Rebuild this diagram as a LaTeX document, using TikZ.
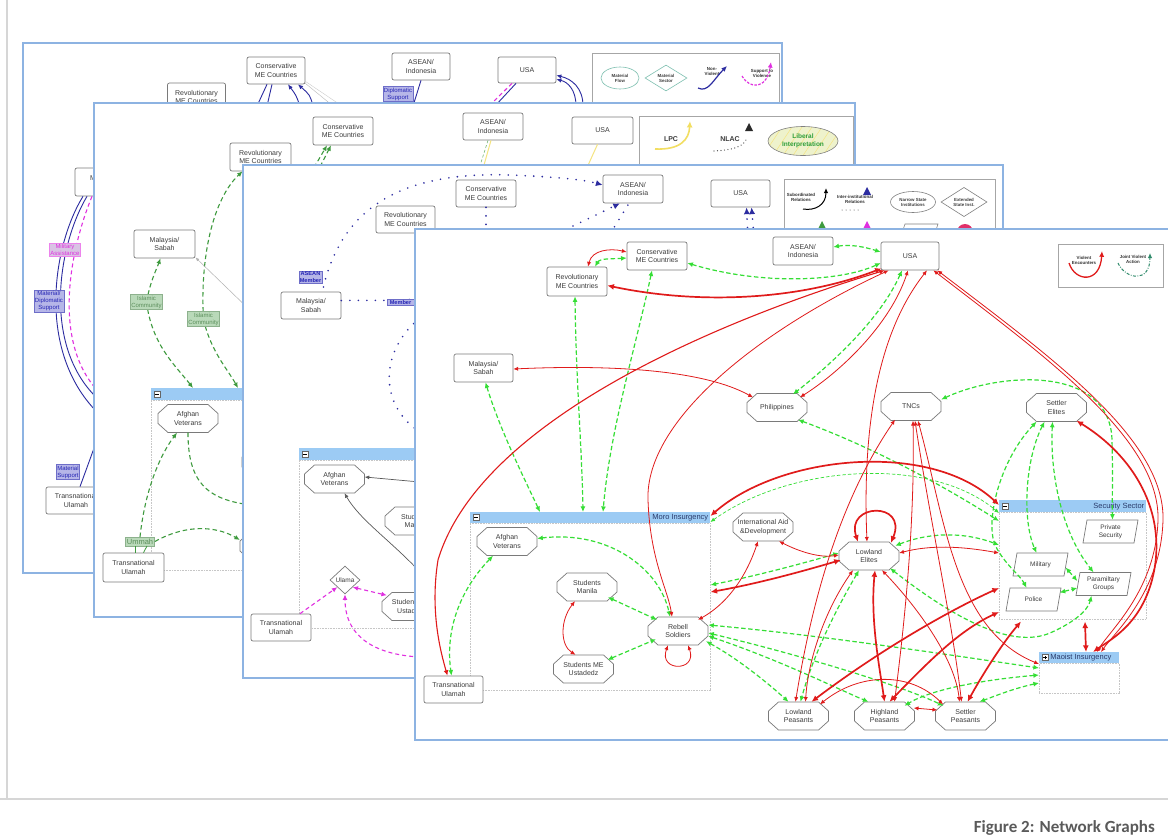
\documentclass[tikz,border=0pt]{standalone}
\usepackage{fontspec}
\setmainfont{Liberation Sans}
\newfontfamily\capfont{Carlito}
\usetikzlibrary{arrows.meta,shapes.geometric}

\definecolor{pageblue}{HTML}{8DB3E2}
\definecolor{boxgray}{HTML}{7A7A7A}
\definecolor{txtgray}{HTML}{3C3C3C}
\definecolor{vred}{HTML}{E01B1B}
\definecolor{vgrn}{HTML}{35DE35}
\definecolor{dgrn}{HTML}{3E9A3E}
\definecolor{navy}{HTML}{2C2CA0}
\definecolor{mag}{HTML}{E030E0}
\definecolor{hdrblue}{HTML}{9CCBF4}
\definecolor{lblfill}{HTML}{B6B6E8}
\definecolor{lbldraw}{HTML}{6E6EC8}
\definecolor{lbltext}{HTML}{2424B4}
\definecolor{islfill}{HTML}{B9D9B9}
\definecolor{isltext}{HTML}{5C8F5C}
\definecolor{pinkfill}{HTML}{D9C4E4}
\definecolor{tealline}{HTML}{7EC0B0}
\definecolor{lpcyel}{HTML}{F2DE62}
\definecolor{bordergray}{HTML}{D6D6D6}
\definecolor{capgray}{HTML}{5A5A5A}
\definecolor{hatchfill}{HTML}{EEF2CC}
\definecolor{libgreen}{HTML}{2E9E3A}
\definecolor{jvgreen}{HTML}{2E8A6A}
\definecolor{ttlblue}{HTML}{2A3A6A}
\definecolor{circred}{HTML}{E0306A}

\newcommand\nf{\fontsize{7}{8.6}\selectfont}
\newcommand\nfs{\fontsize{6.5}{8}\selectfont}
\newcommand\lf{\fontsize{4.4}{5}\selectfont\bfseries}
\newcommand\tf{\fontsize{6}{7}\selectfont}

% octagon outline centred on #2, with the named text node placed on top
\newcommand\octnode[3]{%
  \filldraw[octline] (#2) ++(-20pt,14pt) -- ++(40pt,0pt) -- ++(10pt,-9pt) -- ++(0pt,-10pt)
    -- ++(-10pt,-9pt) -- ++(-40pt,0pt) -- ++(-10pt,9pt) -- ++(0pt,10pt) -- cycle;
  \node[octbase] (#1) at (#2) {#3};}
% slanted box (parallelogram) centred on #2
\newcommand\paranode[3]{%
  \filldraw[octline] (#2) ++(-23.5pt,11.5pt) -- ++(51pt,0pt) -- ++(-4pt,-23pt) -- ++(-51pt,0pt) -- cycle;
  \node[parabase] (#1) at (#2) {#3};}

\tikzset{
  sheet/.style={draw=pageblue, line width=1.6pt, fill=white},
  rbox/.style={draw=boxgray, line width=0.7pt, fill=white, rounded corners=2pt, minimum width=60pt, minimum height=28pt, inner sep=0pt, align=center, font=\nf, text=txtgray},
  octline/.style={draw=boxgray, line width=0.7pt, fill=white},
  octbase/.style={minimum width=60pt, minimum height=28pt, inner sep=0pt, align=center, font=\nf, text=txtgray},
  parabase/.style={minimum width=52pt, minimum height=23pt, inner sep=0pt, align=center, font=\nfs, text=txtgray},
  lbl/.style={draw=lbldraw, fill=lblfill, text=lbltext, font=\tf, align=center, inner sep=1pt, line width=0.5pt},
  isl/.style={draw=isltext!70, fill=islfill, text=isltext, font=\tf, align=center, inner sep=1pt, line width=0.5pt},
  legbox/.style={draw=gray!70, line width=0.6pt, inner sep=0pt, anchor=north west, fill=white},
  legtxt/.style={font=\lf, align=center, text=txtgray!80!black, inner sep=0pt},
  grphdr/.style={fill=hdrblue, inner sep=0pt, anchor=north west, minimum height=11pt},
  grpbody/.style={draw=gray!45, dash pattern=on 0.8pt off 0.8pt, line width=0.5pt, inner sep=0pt, anchor=north west, fill=white},
  grpttl/.style={font=\fontsize{7.5}{8}\selectfont, text=ttlblue, inner sep=1pt},
  icon/.style={draw=gray!80!black, fill=white, minimum size=6pt, inner sep=0pt, line width=0.4pt},
  rt/.style={draw=vred, line width=0.8pt, <->},
  rm/.style={draw=vred, line width=1.1pt, <->},
  rk/.style={draw=vred, line width=1.7pt, <->},
  gd/.style={draw=vgrn, line width=1.2pt, dash pattern=on 4.5pt off 2.5pt, <->},
  gdt/.style={draw=vgrn, line width=0.7pt, dash pattern=on 3.5pt off 2pt, <->},
  dkgreen/.style={draw=dgrn, line width=1.1pt, dash pattern=on 4.5pt off 3pt},
  dotline/.style={draw=navy, line width=1.8pt, line cap=round, dash pattern=on 0pt off 8.5pt},
  navyline/.style={draw=navy, line width=0.9pt},
  magline/.style={draw=mag, line width=1.1pt, dash pattern=on 4pt off 3pt},
}

\begin{document}
\begin{tikzpicture}[x=1pt, y=-1pt, >={Latex[length=3.2pt 2,width=2.6pt 2]}]
\useasboundingbox (0,0) rectangle (1168,839);
\clip (0,0) rectangle (1168,839);
\fill[white] (0,0) rectangle (1168,839);

%% ---------------- sheet 1 (back) ----------------
\draw[sheet] (23,43) rectangle (782,573);
\node[rbox, minimum width=58pt, minimum height=27pt] (p1cons) at (276,70.5) {Conservative\\ME Countries};
\node[rbox, minimum width=58pt] (p1rev) at (196.5,97) {Revolutionary\\ME Countries};
\node[rbox, minimum width=58pt, minimum height=27pt] (p1asean) at (421,66.5) {ASEAN/\\Indonesia};
\node[rbox, minimum width=58pt, minimum height=26pt] (p1usa) at (527,70) {USA};
\node[rbox] (p1mal) at (105,182) {Malaysia/\\Sabah};
\node[rbox, minimum height=27pt] (p1tu) at (76,500.5) {Transnational\\Ulamah};

\coordinate (p1c1) at (97,398); \coordinate (p1c2) at (97,412); \coordinate (p1c3) at (97,390);
\coordinate (p1c4) at (97,440);
\draw[navyline] ([xshift=-18pt]p1mal.south) .. controls (58,245) and (42,345) .. (p1c1);
\draw[navyline] ([xshift=-22pt]p1mal.south) .. controls (53,245) and (36,350) .. (p1c2);
\draw[magline] ([xshift=-13pt]p1mal.south) .. controls (70,250) and (52,340) .. (p1c3);
\draw[navyline] ([xshift=4pt]p1tu.north) -- (p1c4);

\coordinate (p1k1) at (257,106); \coordinate (p1k2) at (267,106); \coordinate (p1k3) at (300,106);
\coordinate (p1k4) at (313,106); \coordinate (p1k5) at (333,106); \coordinate (p1k6) at (342,106);
\coordinate (p1k7) at (413,106); \coordinate (p1k8) at (489,106); \coordinate (p1k9) at (495,106);
\coordinate (p1k10) at (576,106); \coordinate (p1k11) at (583,106);
\draw[navyline] (p1k1) -- ([xshift=-9pt]p1cons.south);
\draw[navyline] (p1k2) -- ([xshift=-4pt]p1cons.south);
\draw[navyline,->] (p1k3) .. controls (296,95) .. ([xshift=12pt]p1cons.south);
\draw[navyline,->] (p1k4) .. controls (310,95) .. ([xshift=22pt]p1cons.south);
\draw[gray!55, line width=0.4pt] ([yshift=1pt]p1cons.south east) -- (p1k5);
\draw[gray!40, line width=0.4pt] ([yshift=3pt]p1cons.south east) -- (p1k6);
\draw[navyline] (p1asean.south) -- (p1k7);
\draw[magline] ([xshift=-15pt]p1usa.south) -- (p1k8);
\draw[navyline] ([xshift=-11pt]p1usa.south) -- (p1k9);
\draw[navyline,->] (p1k10) .. controls (576,90) and (568,82) .. ([yshift=4pt]p1usa.south east);
\draw[navyline,->] (p1k11) .. controls (583,88) and (572,79) .. ([yshift=8pt]p1usa.south east);

\node[lbl, fill=pinkfill, draw=mag!60, text=mag] (p1milit) at (65,250) {Military\\Assistance};
\node[lbl] (p1matdip) at (49,301) {Material/\\Diplomatic\\Support};
\node[lbl] (p1matsup) at (68,472) {Material\\Support};
\node[lbl] (p1dipl) at (398,94) {Diplomatic\\Support};

% legend of sheet 1
\node[legbox, minimum width=187pt, minimum height=49pt] (p1leg) at (592,53) {};
\node[ellipse, draw=tealline, line width=0.6pt, minimum width=38pt, minimum height=22pt, inner sep=0pt, font=\lf, text=txtgray, align=center] (p1legmf) at (620,78) {Material\\Flow};
\node[diamond, draw=tealline, line width=0.6pt, minimum width=42pt, minimum height=26pt, inner sep=0pt, font=\lf, text=txtgray, align=center] (p1legms) at (666,78) {Material\\Sector};
\node[legtxt] (p1legnv) at (712,72) {Non-\\Violent};
\coordinate (p1a1) at (698,88); \coordinate (p1a2) at (727,66);
\draw[navy, line width=1.2pt, ->] (p1a1) .. controls (708,93) and (713,80) .. (p1a2);
\node[legtxt] (p1legsv) at (762,73) {Support to\\Violence};
\coordinate (p1a3) at (742,76); \coordinate (p1a4) at (771,62);
\draw[mag, line width=1.2pt, dash pattern=on 2.5pt off 1.5pt, ->] (p1a3) .. controls (750,90) and (767,89) .. (p1a4);

%% ---------------- sheet 2 ----------------
\draw[sheet] (94,103) rectangle (855,617);
\node[grpbody, minimum width=349pt, minimum height=170pt] (p2moro) at (151,400) {};
\node[grphdr, minimum width=349pt, minimum height=12pt] (p2morohdr) at (151,388) {};
\node[icon] (p2moroicon) at (157,394) {};
\draw[line width=0.6pt] ([xshift=1.3pt]p2moroicon.west) -- ([xshift=-1.3pt]p2moroicon.east);

\node[rbox] (p2cons) at (343,131) {Conservative\\ME Countries};
\node[rbox, minimum width=61pt] (p2rev) at (260.5,157) {Revolutionary\\ME Countries};
\node[rbox, minimum height=27pt] (p2asean) at (493,126.5) {ASEAN/\\Indonesia};
\node[rbox, minimum width=61pt, minimum height=27pt] (p2usa) at (602.5,130.5) {USA};
\node[rbox, minimum width=61pt] (p2mal) at (164.5,244) {Malaysia/\\Sabah};
\octnode{p2afg}{188,418.5}{Afghan\\Veterans}
\octnode{p2stman}{272,462}{Students\\Manila}
\octnode{p2stme}{270,546}{Students ME\\Ustadedz}
\node[rbox, minimum width=61pt, minimum height=29pt] (p2tu) at (133.5,567.5) {Transnational\\Ulamah};

\coordinate (p2k1) at (295,200); \coordinate (p2k2) at (303,200);
\coordinate (p2k3) at (255,315); \coordinate (p2k4) at (252,505);
\coordinate (p2k5) at (478,172); \coordinate (p2k6) at (482,172); \coordinate (p2k7) at (585,172);
% label positions on the green paths
\coordinate (p2i1) at (146.5,302); \coordinate (p2i2) at (203.5,319);
\draw[dkgreen,->] (p2i1) .. controls (150,282) and (157,268) .. ([xshift=-4pt]p2mal.south);
\draw[dkgreen,->] (p2i1) .. controls (152,345) and (175,365) .. ([xshift=42pt]p2morohdr.north west);
\draw[dkgreen,->] (p2i2) .. controls (200,260) and (212,200) .. ([xshift=-18pt]p2rev.south);
\draw[dkgreen,->] (p2i2) .. controls (210,350) and (228,370) .. ([xshift=87pt]p2morohdr.north west);
\draw[dkgreen,->] (p2k1) -- ([xshift=-16pt]p2cons.south);
\draw[dkgreen,->] (p2k2) -- ([xshift=-12pt]p2cons.south);
\draw[gray!60, line width=0.5pt, -{Latex[length=4pt,width=3pt]}] (p2k3) -- ([yshift=1pt]p2mal.south east);
\draw[dkgreen] (p2afg.south) .. controls (188,480) and (205,500) .. (p2k4);
\draw[dgrn!70, line width=0.6pt, dash pattern=on 3pt off 2pt] ([xshift=-5pt]p2asean.south) -- (p2k5);
\draw[lpcyel!80, line width=1pt] ([xshift=-2pt]p2asean.south) -- (p2k6);
\draw[lpcyel!80, line width=1pt] ([xshift=-5pt]p2usa.south) -- (p2k7);

\node[isl] (p2isl1) at (p2i1) {Islamic\\Community};
\node[isl] (p2isl2) at (p2i2) {Islamic\\Community};
\node[isl, font=\fontsize{7.5}{8}\selectfont, inner sep=1.5pt] (p2ummah) at (140,541.5) {Ummah};
\draw[dkgreen,->] (p2ummah.north) .. controls (145,490) and (160,455) .. ([xshift=-11pt]p2afg.south);
\draw[dkgreen,->] (p2ummah.east) .. controls (190,522) and (220,528) .. ([yshift=6pt]p2stme.west);
\draw[dgrn, line width=0.8pt] ([xshift=-5pt]p2ummah.south) -- ([xshift=1.5pt]p2tu.north);
\draw[dgrn, line width=0.8pt] ([xshift=7pt]p2ummah.south) -- ([xshift=10pt]p2tu.north);

% legend of sheet 2
\node[legbox, minimum width=214pt, minimum height=52pt] (p2leg) at (639,116) {};
\node[font=\fontsize{7}{8}\selectfont\bfseries, text=txtgray] (p2leglpc) at (671,139) {LPC};
\coordinate (p2a1) at (655,149); \coordinate (p2a2) at (690,121);
\draw[lpcyel, line width=1.6pt, ->] (p2a1) .. controls (680,150) and (689,140) .. (p2a2);
\node[font=\fontsize{7}{8}\selectfont\bfseries, text=txtgray] (p2legnlac) at (730,139) {NLAC};
\coordinate (p2a3) at (714,151); \coordinate (p2a4) at (747,137);
\draw[txtgray, line width=1.2pt, line cap=round, dash pattern=on 0pt off 3.5pt] (p2a3) .. controls (730,150) and (745,148) .. (p2a4);
\fill[txtgray!70!black] (745,131) -- (753,131) -- (749,123) -- cycle;
\node[ellipse, draw=gray, line width=0.6pt, fill=hatchfill, minimum width=70pt, minimum height=29pt, inner sep=0pt, font=\fontsize{6.5}{7.5}\selectfont\bfseries, text=libgreen, align=center,
  path picture={\foreach \k in {-50,-40,...,40}{\draw[lpcyel!80, line width=0.5pt] ([xshift=\k pt]path picture bounding box.south) -- ++(20pt,30pt);}}] (p2leglib) at (803,141) {Liberal\\Interpretation};

%% ---------------- sheet 3 ----------------
\draw[sheet] (243,165) rectangle (1003,678);
\node[grpbody, minimum width=301pt, minimum height=168pt] (p3moro) at (299,460) {};
\node[grphdr, minimum width=301pt, minimum height=12pt] (p3morohdr) at (299,448) {};
\node[icon] (p3moroicon) at (305,454) {};
\draw[line width=0.6pt] ([xshift=1.3pt]p3moroicon.west) -- ([xshift=-1.3pt]p3moroicon.east);

\node[rbox, minimum height=27pt] (p3cons) at (486,193.5) {Conservative\\ME Countries};
\node[rbox, minimum width=59pt, minimum height=27pt] (p3rev) at (405.5,219.5) {Revolutionary\\ME Countries};
\node[rbox] (p3asean) at (633,189) {ASEAN/\\Indonesia};
\node[rbox, minimum width=59pt, minimum height=27pt] (p3usa) at (740.5,193.5) {USA};
\node[rbox, minimum height=27pt] (p3mal) at (311,305.5) {Malaysia/\\Sabah};
\octnode{p3afg}{334.5,479}{Afghan\\Veterans}
\octnode{p3stman}{415,521}{Students\\Manila}
\node[diamond, draw=boxgray, line width=0.7pt, fill=white, minimum width=30pt, minimum height=28pt, inner sep=0pt, font=\fontsize{6.5}{7}\selectfont, text=txtgray] (p3ulama) at (345,580) {Ulama};
\octnode{p3stme}{412,606.5}{Students ME\\Ustadedz}
\node[rbox, minimum height=27pt] (p3tu) at (281,627.5) {Transnational\\Ulamah};

\coordinate (p3k1) at (430,296); \coordinate (p3k2) at (486,245);
\coordinate (p3k3) at (573,226); \coordinate (p3k4) at (610,234);
\coordinate (p3k5) at (748,236); \coordinate (p3k6) at (754,236);
\coordinate (p3k7) at (420,318); \coordinate (p3k8) at (420,432);
\coordinate (p3k9) at (420,482); \coordinate (p3k10) at (420,572); \coordinate (p3k11) at (420,657);
\coordinate (p3am) at (310.5,277);
\draw[dotline,->] ([xshift=13pt,yshift=-10pt]p3am) .. controls (345,195) and (420,172) .. (510,175)
   .. controls (560,177) and (585,180) .. ([yshift=4pt]p3asean.west);
\draw[dotline] ([yshift=5pt]p3mal.east) .. controls (380,300) and (410,302) .. (p3k1);
\draw[dotline] (p3cons.south) -- (p3k2);
\draw[dotline,->] (p3k3) -- ([xshift=-13pt]p3asean.south);
\draw[dotline] (p3k4) -- ([xshift=-4pt]p3asean.south);
\draw[dotline,->] (p3k5) -- ([xshift=6pt]p3usa.south);
\draw[dotline,->] (p3k6) -- ([xshift=11pt]p3usa.south);
\draw[dotline] (p3k7) .. controls (380,350) and (378,405) .. (p3k8);
\draw[gray!70!black, line width=0.7pt, ->] (p3k9) -- ([yshift=2pt]p3afg.east);
\draw[gray!70!black, line width=0.7pt, ->] (p3k10) .. controls (390,540) and (360,520) .. ([xshift=10pt]p3afg.south);
\draw[magline,->] ([xshift=19pt]p3tu.north) -- (p3ulama.south west);
\draw[magline,<->] (p3ulama.south east) -- ([xshift=5pt,yshift=-3pt]p3stme.north west);
\draw[magline,->] (p3k11) .. controls (380,655) and (345,640) .. (p3ulama.south);

\node[lbl, font=\fontsize{5.6}{6.4}\selectfont\bfseries] (p3aseanm) at (p3am) {ASEAN\\Member};
\node[lbl, font=\fontsize{5.6}{6.4}\selectfont\bfseries, minimum width=27pt] (p3member) at (400.5,302) {Member};
\node[lbl, minimum width=26pt, minimum height=12pt] (p3conslbl) at (500,234) {};

% legend of sheet 3
\node[legbox, minimum width=211pt, minimum height=70pt] (p3leg) at (784,179) {};
\node[legtxt] (p3legsub) at (801,197) {Subordinated\\Relations};
\coordinate (p3a1) at (803,209); \coordinate (p3a2) at (826,188);
\draw[black, line width=1pt, ->] (p3a1) .. controls (815,211) and (826,205) .. (p3a2);
\node[legtxt] (p3legint) at (855,199) {Inter-institutional\\Relations};
\fill[navy] (863,195) -- (871,195) -- (867,187) -- cycle;
\coordinate (p3a3) at (842,210); \coordinate (p3a4) at (858,210);
\draw[txtgray, line width=1pt, line cap=round, dash pattern=on 0pt off 4pt] (p3a3) -- (p3a4);
\node[ellipse, draw=gray, line width=0.6pt, minimum width=45pt, minimum height=21pt, inner sep=0pt, font=\lf, text=txtgray, align=center] (p3legnsi) at (913,202) {Narrow State\\Institutions};
\node[diamond, draw=gray, line width=0.6pt, minimum width=46pt, minimum height=22pt, inner sep=0pt, font=\lf, text=txtgray, align=center] (p3legesi) at (964,202) {Extended\\State Inst.};
\fill[dgrn] (818,229) -- (826,229) -- (822,221) -- cycle;
\fill[mag] (863,229) -- (871,229) -- (867,221) -- cycle;
\draw[gray, line width=0.6pt] (905,224) -- (938,224) -- (934,236) -- (901,236) -- cycle;
\fill[circred] (965,232) circle (8pt);

%% ---------------- sheet 4 (front) ----------------
\draw[sheet] (415,229) rectangle (1185,740);

% legend of sheet 4
\node[legbox, minimum width=105pt, minimum height=43pt] (p4leg) at (1058,244) {};
\node[legtxt] (p4legve) at (1084,260) {Violent\\Encounters};
\coordinate (p4a1) at (1069,263); \coordinate (p4a2) at (1102,251);
\draw[vred, line width=1.3pt, ->] (p4a1) .. controls (1075,282) and (1100,284) .. (p4a2);
\node[legtxt] (p4legjv) at (1133,259) {Joint Violent\\Action};
\coordinate (p4a3) at (1118,263); \coordinate (p4a4) at (1150,253);
\draw[jvgreen, line width=1pt, dash pattern=on 3pt off 1.5pt on 0.8pt off 1.5pt, ->] (p4a3) .. controls (1125,279) and (1150,284) .. (p4a4);

% groups
\node[grpbody, minimum width=240pt, minimum height=167pt] (p4moro) at (470,523) {};
\node[grphdr, minimum width=240pt] (p4morohdr) at (470,512) {};
\node[icon] (p4moroicon) at (476,517.5) {};
\draw[line width=0.6pt] ([xshift=1.3pt]p4moroicon.west) -- ([xshift=-1.3pt]p4moroicon.east);
\node[grpttl, anchor=east] (p4morottl) at ([xshift=-1pt]p4morohdr.east) {Moro Insurgency};

\node[grpbody, minimum width=147pt, minimum height=107pt] (p4sec) at (999,512) {};
\node[grphdr, minimum width=147pt, minimum height=12pt] (p4sechdr) at (999,500) {};
\node[icon] (p4secicon) at (1005,506) {};
\draw[line width=0.6pt] ([xshift=1.3pt]p4secicon.west) -- ([xshift=-1.3pt]p4secicon.east);
\node[grpttl, anchor=east] (p4secttl) at ([xshift=-1pt]p4sechdr.east) {Security Sector};

\node[grpbody, minimum width=80pt, minimum height=30pt] (p4maoist) at (1039,663) {};
\node[grphdr, minimum width=80pt] (p4maoisthdr) at (1039,652) {};
\node[icon] (p4maoisticon) at (1045,657.5) {};
\draw[line width=0.6pt] ([xshift=1.3pt]p4maoisticon.west) -- ([xshift=-1.3pt]p4maoisticon.east);
\draw[line width=0.6pt] ([yshift=1.3pt]p4maoisticon.south) -- ([yshift=-1.3pt]p4maoisticon.north);
\node[grpttl, anchor=west] (p4maoistttl) at ([xshift=1pt]p4maoisticon.east) {Maoist Insurgency};

% nodes
\node[rbox] (p4cons) at (657,256) {Conservative\\ME Countries};
\node[rbox, minimum height=29pt] (p4rev) at (577,281.5) {Revolutionary\\ME Countries};
\node[rbox] (p4asean) at (803,251) {ASEAN/\\Indonesia};
\node[rbox, minimum width=58pt] (p4usa) at (910,256) {USA};
\node[rbox, minimum width=59pt] (p4mal) at (483.5,368) {Malaysia/\\Sabah};
\octnode{p4phil}{777,407.5}{Philippines}
\octnode{p4tncs}{911,406.5}{TNCs}
\octnode{p4setel}{1056.5,407.5}{Settler\\Elites}
\octnode{p4afg}{507,541.5}{Afghan\\Veterans}
\octnode{p4aid}{763,527}{International Aid\\\&Development}
\octnode{p4stman}{587,587}{Students\\Manila}
\octnode{p4rebel}{678,631}{Rebell\\Soldiers}
\octnode{p4stme}{583.5,669}{Students ME\\Ustadedz}
\node[rbox, minimum width=59pt, minimum height=27pt] (p4tu) at (453.5,689.5) {Transnational\\Ulamah};
\octnode{p4lowel}{869,556}{Lowland\\Elites}
\paranode{p4privsec}{1110.5,531.5}{Private\\Security}
\paranode{p4military}{1040.5,564.5}{Military}
\paranode{p4paramil}{1103.5,584}{Paramiltary\\Groups}
\paranode{p4police}{1033.5,599.5}{Police}
\octnode{p4lowpe}{798.5,716}{Lowland\\Peasants}
\octnode{p4highpe}{884.5,716}{Highland\\Peasants}
\octnode{p4setpe}{965.5,716}{Settler\\Peasants}

% edges: green dashed (joint action)
\draw[gd] ([xshift=18pt]p4rev.north) .. controls (600,258) and (612,259) .. ([yshift=-2pt]p4cons.west);
\draw[gd] ([yshift=-7pt]p4cons.east) .. controls (760,285) and (840,282) .. ([yshift=-7pt]p4usa.west);
\draw[gd] ([yshift=4pt]p4asean.east) .. controls (850,244) and (865,247) .. ([yshift=4pt]p4usa.west);
\draw[gd] ([xshift=-8pt]p4usa.south) .. controls (880,320) and (830,365) .. ([xshift=16pt,yshift=-1pt]p4phil.north);
\draw[gd] ([xshift=2pt]p4mal.south) .. controls (500,430) and (525,480) .. ([xshift=70pt]p4morohdr.north west);
\draw[gd] ([xshift=-2pt]p4rev.south) .. controls (576,380) and (582,450) .. ([xshift=113pt]p4morohdr.north west);
\draw[gd] ([xshift=-5pt]p4cons.south) .. controls (635,350) and (610,430) .. ([xshift=133pt]p4morohdr.north west);
\draw[gd] ([xshift=21pt,yshift=2pt]p4phil.south) .. controls (880,450) and (950,490) .. ([yshift=-9pt]p4sec.north west);
\draw[gd] ([yshift=7pt]p4tncs.east) .. controls (1000,372) and (1110,365) .. (1112,440) .. controls (1113,480) and (1112,500) .. ([xshift=2pt]p4privsec.north);
\draw[gd] ([xshift=-20pt]p4setel.south) .. controls (1000,460) and (985,520) .. (995,545) .. controls (1005,565) and (1020,575) .. ([xshift=-7pt]p4police.north);
\draw[gd] ([xshift=-12pt]p4setel.south) .. controls (1025,460) and (1022,520) .. ([xshift=-4pt]p4military.north);
\draw[gd] ([xshift=-4pt]p4setel.south) .. controls (1050,470) and (1060,530) .. ([xshift=-10pt]p4paramil.north);
\draw[gdt] ([yshift=-10pt]p4morohdr.north east) .. controls (790,465) and (930,455) .. ([yshift=-1pt]p4sec.north west);
\draw[gd] ([yshift=3pt]p4afg.east) .. controls (610,530) and (660,570) .. ([xshift=-8pt]p4rebel.north);
\draw[gd] ([xshift=-14pt]p4afg.south) .. controls (460,590) and (445,630) .. ([xshift=-2pt]p4tu.north);
\draw[gd] ([xshift=21pt,yshift=4pt]p4stman.south) -- ([xshift=-21pt,yshift=-3pt]p4rebel.north);
\draw[gd] ([xshift=24pt,yshift=-5pt]p4stme.north) -- ([xshift=-22pt,yshift=6pt]p4rebel.south);
\draw[gd] ([xshift=28pt,yshift=4pt]p4rebel.south) .. controls (740,660) and (770,685) .. ([xshift=-10pt]p4lowpe.north);
\draw[gd] ([yshift=-5pt]p4rebel.east) .. controls (780,660) and (840,690) .. ([xshift=-16pt]p4highpe.north);
\draw[gd] ([yshift=-2pt]p4rebel.east) .. controls (800,655) and (900,685) .. ([xshift=-22pt,yshift=-4pt]p4setpe.north);
\draw[gd] ([yshift=6pt]p4rebel.east) .. controls (820,635) and (950,655) .. ([yshift=-5pt]p4maoist.north west);
\draw[gd] ([yshift=3pt]p4lowel.west) .. controls (790,567) and (750,577) .. ([yshift=-62pt]p4moro.north east);
\draw[gd] ([xshift=-4pt,yshift=-4pt]p4lowel.north east) .. controls (930,532) and (965,532) .. ([yshift=-33pt]p4sec.north west);
\draw[gd] ([xshift=-10pt]p4lowel.south) .. controls (830,620) and (812,660) .. ([xshift=2pt]p4lowpe.north);
\draw[gd] ([xshift=21pt,yshift=2pt]p4lowel.south) .. controls (950,615) and (1010,650) .. (1050,633) .. controls (1075,622) and (1088,610) .. ([xshift=-12pt]p4paramil.south);
\draw[gd] ([xshift=-1pt,yshift=-3pt]p4military.east) -- ([yshift=3pt]p4paramil.west);
\draw[gd] ([yshift=7pt]p4police.east) -- ([yshift=-4pt]p4paramil.west);
\draw[gd] ([yshift=-12pt]p4maoist.north west) .. controls (980,680) and (930,690) .. ([xshift=20pt,yshift=-4pt]p4highpe.north);
\draw[gd] ([yshift=-20pt]p4maoist.north west) .. controls (1015,688) and (995,696) .. ([xshift=14pt]p4setpe.north);

% edges: red (violent encounters)
\draw[rt] ([xshift=11pt]p4rev.north) .. controls (592,250) and (610,248) .. ([yshift=4pt]p4cons.west);
\draw[rk] ([xshift=1pt,yshift=2pt]p4usa.south west) .. controls (800,300) and (700,305) .. ([yshift=-4pt]p4rev.east);
\draw[rm] ([xshift=4pt]p4usa.south west) .. controls (720,320) and (480,420) .. (438,560) .. controls (430,610) and (440,650) .. ([xshift=-6pt]p4tu.north);
\draw[rt] ([xshift=8pt]p4usa.south west) .. controls (760,330) and (645,420) .. (648,500) .. controls (650,560) and (668,590) .. ([xshift=-6pt]p4rebel.north);
\draw[rt] ([xshift=-2pt]p4usa.south) .. controls (890,325) and (840,372) .. ([xshift=23pt,yshift=-4pt]p4phil.north);
\draw[rt] ([yshift=-1pt]p4mal.east) .. controls (600,365) and (700,368) .. ([xshift=-24pt,yshift=-4pt]p4phil.north);
\draw[rt] ([xshift=17pt]p4usa.south) .. controls (880,330) and (862,420) .. ([xshift=-2pt]p4lowel.north);
\draw[rt] ([xshift=-6pt]p4usa.south east) .. controls (1050,360) and (1160,440) .. (1158,520) .. controls (1156,590) and (1110,630) .. ([xshift=58pt]p4maoisthdr.north west);
\draw[rt] ([xshift=-2pt]p4usa.south east) .. controls (1055,360) and (1165,440) .. (1163,520) .. controls (1161,592) and (1115,632) .. ([xshift=62pt]p4maoisthdr.north west);
\draw[rk] ([yshift=-4pt]p4morohdr.north east) .. controls (780,455) and (930,440) .. ([yshift=-5pt]p4sechdr.north west);
\draw[rt] ([xshift=-5pt]p4aid.south) .. controls (745,580) and (725,605) .. ([xshift=20pt,yshift=-3pt]p4rebel.north);
\draw[rt] ([xshift=16pt]p4aid.south) .. controls (800,552) and (820,558) .. ([yshift=1pt]p4lowel.west);
\draw[rt] ([xshift=-12pt]p4stman.south) .. controls (560,620) and (560,645) .. ([xshift=-8pt]p4stme.north);
\draw[rt] ([xshift=-10pt]p4rebel.south) .. controls (658,672) and (698,672) .. ([xshift=10pt]p4rebel.south);
\draw[rk] ([xshift=2pt,yshift=-4pt]p4lowel.west) .. controls (790,575) and (750,585) .. ([yshift=-69pt]p4moro.north east);
\draw[rk] ([xshift=-11pt]p4lowel.north) .. controls (845,503) and (908,501) .. ([xshift=22pt,yshift=-1pt]p4lowel.north);
\draw[rt] ([yshift=3pt]p4lowel.east) .. controls (930,545) and (960,546) .. ([yshift=-41pt]p4sec.north west);
\draw[rt] ([xshift=-16pt]p4lowel.south) .. controls (825,610) and (808,660) .. ([xshift=7pt]p4lowpe.north);
\draw[rk] ([xshift=6pt]p4lowel.south) .. controls (870,620) and (880,670) .. (p4highpe.north);
\draw[rt] ([xshift=13pt]p4lowel.south) .. controls (920,610) and (955,660) .. ([xshift=-6pt]p4setpe.north);
\draw[rk] ([xshift=13pt]p4lowpe.north) .. controls (880,650) and (950,610) .. ([yshift=-76pt]p4sec.north west);
\draw[rk] ([xshift=5pt]p4highpe.north) .. controls (930,660) and (960,630) .. ([yshift=-100pt]p4sec.north west);
\draw[rk] ([xshift=2pt]p4setpe.north) .. controls (985,670) and (1005,640) .. ([xshift=22pt,yshift=-2pt]p4sec.south west);
\draw[rk] ([xshift=86pt,yshift=-2pt]p4sec.south west) -- ([xshift=47pt]p4maoisthdr.north west);
\draw[rk] ([xshift=20pt,yshift=1pt]p4setel.south) .. controls (1140,460) and (1168,520) .. (1152,580) .. controls (1140,625) and (1110,640) .. ([xshift=54pt]p4maoisthdr.north west);
\draw[rt] ([xshift=7pt]p4tncs.south) .. controls (945,520) and (955,630) .. ([yshift=-1pt]p4maoist.north west);
\draw[rt] ([xshift=2pt]p4tncs.south) .. controls (915,520) and (905,620) .. ([xshift=10pt]p4highpe.north);
\draw[rt] ([xshift=4pt]p4tncs.south) .. controls (930,520) and (952,620) .. ([xshift=-4pt]p4setpe.north);
\draw[rt] ([xshift=-16pt,yshift=1pt]p4tncs.south) .. controls (840,500) and (812,600) .. ([xshift=-3pt]p4lowpe.north);
\draw[rt] ([xshift=21.5pt,yshift=-2.5pt]p4lowpe.north) .. controls (860,672) and (910,672) .. ([xshift=-22.5pt,yshift=-2.5pt]p4setpe.north);
\draw[rt] ([xshift=-1pt,yshift=8pt]p4highpe.east) -- ([xshift=2pt,yshift=6pt]p4setpe.west);

%% ---------------- page decoration and caption ----------------
\draw[bordergray, line width=2.5pt] (7,0) -- (7,799);
\draw[bordergray, line width=2pt] (0,799) -- (1168,799);
\node[font={\capfont\bfseries\fontsize{17}{20}\selectfont}, text=capgray, anchor=base east, inner sep=0pt] (caption) at (1155,832) {Figure 2: Network Graphs};
\end{tikzpicture}
\end{document}
